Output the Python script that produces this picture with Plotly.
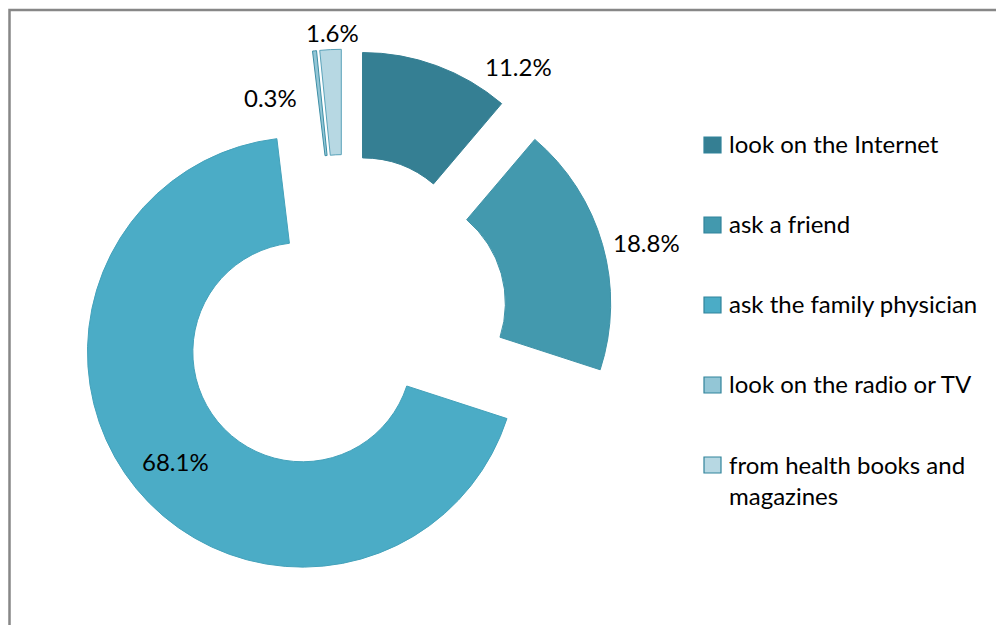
import plotly.graph_objects as go

# Where people look for health information (share of respondents, %)
sources = [
    "look on the Internet",
    "ask a friend",
    "ask the family physician",
    "look on the radio or TV",
    "from health books and<br>magazines",
]
shares = [11.2, 18.8, 68.1, 0.3, 1.6]

fill_colors = ["#357F93", "#4399AE", "#4BACC6", "#93C6D6", "#B7D8E3"]
edge_colors = ["#357F93", "#3F93A8", "#44A2BB", "#3D8FA6", "#5AA3BA"]

# percentage label anchor points (pixel positions on the 996x625 canvas)
label_pos = [(518, 66), (646, 242), (175, 461), (270, 97), (332, 33)]

W, H = 996, 625


def px(x, y):
    return x / W, 1 - y / H


FONT = "Lato"
FONT_SIZE = 24

fig = go.Figure(
    go.Pie(
        labels=[s.replace("<br>", " ") for s in sources],
        values=shares,
        sort=False,
        direction="clockwise",
        rotation=0,
        hole=0.51,
        pull=[0.25] * len(shares),
        marker=dict(colors=fill_colors, line=dict(color=edge_colors, width=1)),
        textinfo="none",
        hoverinfo="label+percent",
        showlegend=False,
        domain=dict(x=[75.25 / W, 612.75 / W], y=[1 - 586.75 / H, 1 - 49.25 / H]),
    )
)

annotations = []
shapes = []

# value labels
for v, (lx, ly) in zip(shares, label_pos):
    ax, ay = px(lx, ly)
    annotations.append(
        dict(
            x=ax, y=ay, xref="paper", yref="paper",
            text=f"{v:.1f}%", showarrow=False,
            xanchor="center", yanchor="middle",
            font=dict(family=FONT, size=FONT_SIZE, color="#000000"),
        )
    )

# legend: swatch + label per source
legend_top = 145
legend_step = 80
for i, (name, col) in enumerate(zip(sources, fill_colors)):
    cy = legend_top + i * legend_step
    x0, y0 = px(704, cy - 8)
    x1, y1 = px(721, cy + 8)
    shapes.append(
        dict(
            type="rect", xref="paper", yref="paper",
            x0=x0, x1=x1, y0=y1, y1=y0,
            fillcolor=col, line=dict(color="#31849B", width=1.2),
        )
    )
    n_lines = name.count("<br>") + 1
    ty = cy - 2 + (n_lines - 1) * 33 / 2
    tx, tyy = px(727, ty)
    annotations.append(
        dict(
            x=tx, y=tyy, xref="paper", yref="paper",
            text=name, showarrow=False, align="left",
            xanchor="left", yanchor="middle",
            font=dict(family=FONT, size=FONT_SIZE, color="#000000"),
        )
    )

# chart frame (top and left edges visible)
fx0, fy0 = px(9.5, 10)
shapes.append(
    dict(
        type="rect", xref="paper", yref="paper",
        x0=fx0, x1=1.05, y0=-0.05, y1=fy0,
        line=dict(color="#878787", width=2.5), fillcolor="rgba(0,0,0,0)",
        layer="above",
    )
)

fig.update_layout(
    width=W, height=H,
    margin=dict(l=0, r=0, t=0, b=0),
    paper_bgcolor="white",
    plot_bgcolor="white",
    annotations=annotations,
    shapes=shapes,
    font=dict(family=FONT),
)

fig.write_html("out.html")
